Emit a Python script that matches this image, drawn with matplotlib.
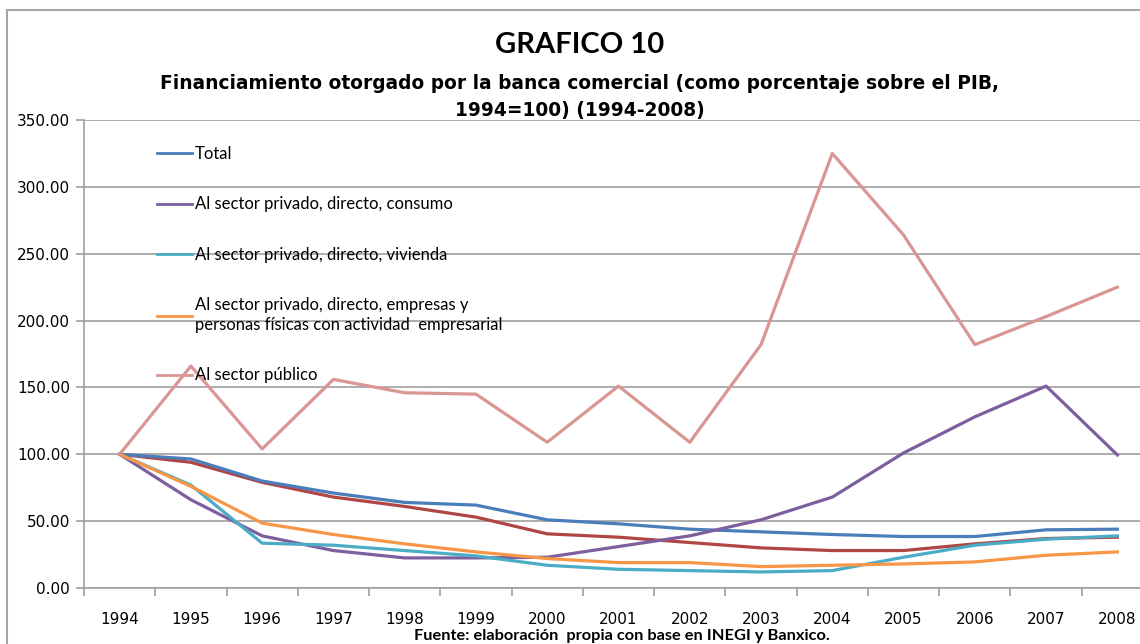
import matplotlib
matplotlib.use("Agg")
import matplotlib.pyplot as plt
from matplotlib.patches import Rectangle

years = ["1994", "1995", "1996", "1997", "1998", "1999", "2000", "2001",
         "2002", "2003", "2004", "2005", "2006", "2007", "2008"]

total = [100, 96.5, 80, 71, 64, 62, 51, 48, 44, 42, 40, 38.5, 38.5, 43.5, 44]
consumo = [100, 66, 39, 28, 22.5, 22.5, 23, 31, 39, 51, 68, 101, 128, 151, 99.5]
vivienda = [100, 77, 33.5, 32, 28, 24, 17, 14, 13, 12, 13, 23, 32, 36.5, 39]
empresas = [100, 76, 48.5, 40, 33, 27, 22, 19, 19, 16, 17, 18, 19.5, 24.5, 27]
publico = [100, 166, 104, 156, 146, 145, 109, 151, 109, 182, 325, 264, 182, 203, 225]
# serie sin entrada en la leyenda
privado = [100, 94, 79, 68, 61, 53, 40.5, 38, 34, 30, 28, 28, 33, 37, 38]

series = [
    ("Total", total, "#4A7EBB"),
    ("Al sector privado, directo, consumo", consumo, "#7D5FA0"),
    ("Al sector privado, directo, vivienda", vivienda, "#4BACC6"),
    ("Al sector privado, directo, empresas y\npersonas físicas con actividad  empresarial",
     empresas, "#F79646"),
    ("Al sector público", publico, "#D99694"),
]

W, H = 1140, 644
fig = plt.figure(figsize=(W / 100, H / 100), dpi=100)
fig.patches.append(Rectangle((7 / W, -0.1), 1.2, 1 - 10 / H + 0.1, transform=fig.transFigure,
                             fill=False, edgecolor="#A6A6A6", linewidth=1.5))

ax = fig.add_axes([84 / W, 56 / H, 1069 / W, 468 / H])
x = list(range(len(years)))

ax.plot(x, privado, color="#B04644", linewidth=2.3, solid_joinstyle="round")
handles = []
for label, vals, color in series:
    (ln,) = ax.plot(x, vals, color=color, linewidth=2.3, label=label, solid_joinstyle="round")
    handles.append(ln)
# the pink public-sector line is drawn on top in the reference
handles[-1].set_zorder(3)

ax.set_xlim(-0.5, len(years) - 0.5)
ax.set_ylim(0, 350)
ax.set_yticks(range(0, 351, 50))
ax.set_yticklabels([f"{v:.2f}" for v in range(0, 351, 50)])
ax.yaxis.grid(True, color="#A0A0A0", linewidth=1.2)
ax.set_axisbelow(True)

ax.set_xticks(x)
ax.set_xticklabels(years)
ax.set_xticks([i + 0.5 for i in x[:-1]] + [-0.5], minor=True)
ax.tick_params(axis="x", which="major", length=0, pad=17, labelsize=11)
ax.tick_params(axis="x", which="minor", length=6, color="#A0A0A0", width=1.2)
ax.tick_params(axis="y", length=6, color="#A0A0A0", width=1.2, labelsize=11, pad=4)
for lbl in ax.get_xticklabels() + ax.get_yticklabels():
    lbl.set_family("DejaVu Sans")

for side in ("top", "right"):
    ax.spines[side].set_visible(False)
for side in ("left", "bottom"):
    ax.spines[side].set_color("#A0A0A0")
    ax.spines[side].set_linewidth(1.2)

leg = ax.legend(handles=handles, loc="upper left", bbox_to_anchor=(0.054, 0.976),
                frameon=False, handlelength=2.1, handletextpad=0.2, labelspacing=2.05,
                prop={"family": "Lato", "size": 12})
for ln in leg.get_lines():
    ln.set_linewidth(2)
for t in leg.get_texts():
    t.set_linespacing(1.35)

fig.text(580 / W, 1 - 45 / H, "GRAFICO 10", ha="center", va="center",
         family="Lato", weight="bold", fontsize=21)
fig.text(580 / W, 1 - 97 / H,
         "Financiamiento otorgado por la banca comercial (como porcentaje sobre el PIB,\n"
         "1994=100) (1994-2008)",
         ha="center", va="center", family="DejaVu Sans", weight="bold", fontsize=13.4,
         linespacing=1.55)
fig.text(622 / W, 1 - 636 / H, "Fuente: elaboración  propia con base en INEGI y Banxico.",
         ha="center", va="center", family="Lato", weight="bold", fontsize=11.8)

fig.savefig("out.png", dpi=100)
